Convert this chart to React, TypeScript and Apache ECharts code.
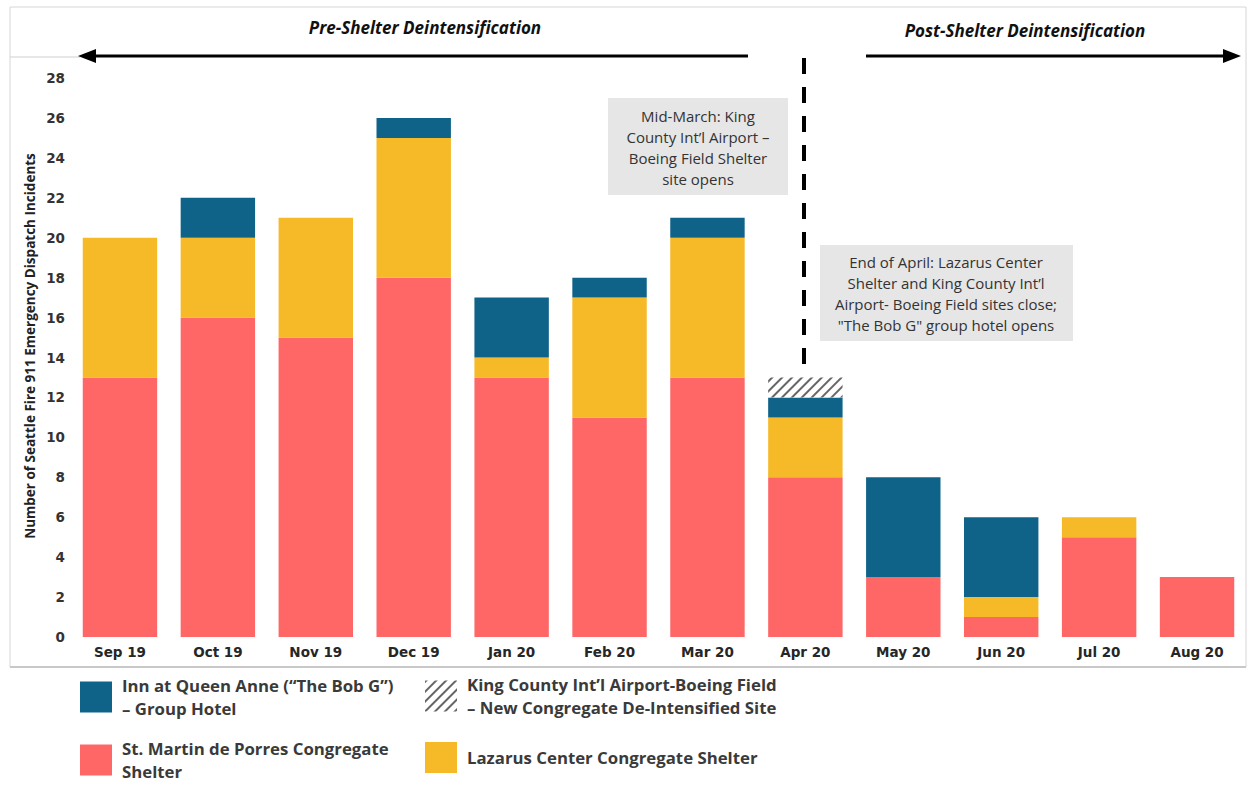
import React, { useEffect, useRef } from "react";
import * as echarts from "echarts";

const categories = ["Sep 19", "Oct 19", "Nov 19", "Dec 19", "Jan 20", "Feb 20", "Mar 20", "Apr 20", "May 20", "Jun 20", "Jul 20", "Aug 20"];
const stMartin = [13, 16, 15, 18, 13, 11, 13, 8, 3, 1, 5, 3];
const lazarus = [7, 4, 6, 7, 1, 6, 7, 3, 0, 1, 1, 0];
const bobG = [0, 2, 0, 1, 3, 1, 1, 1, 5, 4, 0, 0];
const kingCounty = [null, null, null, null, null, null, null, 1, null, null, null, null];

const yMin = 0;
const yMax = 28;
const yInterval = 2;

const nameRed = "St. Martin de Porres Congregate Shelter";
const nameYellow = "Lazarus Center Congregate Shelter";
const nameBlue = "Inn at Queen Anne (“The Bob G”) – Group Hotel";
const nameHatch = "King County Int’l Airport-Boeing Field – New Congregate De-Intensified Site";

const legendLabels: Record<string, string> = {
  [nameRed]: "St. Martin de Porres Congregate\nShelter",
  [nameYellow]: "Lazarus Center Congregate Shelter",
  [nameBlue]: "Inn at Queen Anne (“The Bob G”)\n– Group Hotel",
  [nameHatch]: "King County Int’l Airport-Boeing Field\n– New Congregate De-Intensified Site",
};

const FONT = "'Open Sans', Lato, sans-serif";
const AXFONT = "'DejaVu Sans', Verdana, sans-serif";

export default function App() {
  const ref = useRef<HTMLDivElement>(null);
  useEffect(() => {
    if (!ref.current) return;
    const chart = echarts.init(ref.current, undefined, { renderer: "svg" });
    const legendBase = (name: string, left: number, top: number) => ({
      data: [name],
      left,
      top,
      orient: "vertical",
      padding: 0,
      icon: "rect",
      itemWidth: 32,
      itemHeight: 31,
      selectedMode: false,
      formatter: (n: string) => legendLabels[n] || n,
      textStyle: {
        fontFamily: FONT,
        fontWeight: "bold",
        fontSize: 16.8,
        color: "#3a3a3a",
        lineHeight: 23,
        padding: [0, 0, 0, 5],
      },
    });
    const option: any = {
      animation: false,
      backgroundColor: "#ffffff",
      grid: { left: 71, right: 6, top: 78, bottom: 161, containLabel: false },
      xAxis: {
        type: "category",
        data: categories,
        axisLine: { show: false },
        axisTick: { show: false },
        axisLabel: {
          margin: 8,
          fontFamily: AXFONT,
          fontWeight: "bold",
          fontSize: 13.5,
          color: "#262626",
        },
      },
      yAxis: {
        type: "value",
        min: yMin,
        max: yMax,
        interval: yInterval,
        splitLine: { show: false },
        axisLine: { show: false },
        axisTick: { show: false },
        axisLabel: {
          margin: 6,
          fontFamily: AXFONT,
          fontWeight: "bold",
          fontSize: 13.5,
          color: "#333333",
        },
      },
      legend: [
        legendBase(nameBlue, 80, 674),
        legendBase(nameRed, 80, 737),
        legendBase(nameHatch, 425, 673),
        legendBase(nameYellow, 425, 742),
      ],
      series: [
        {
          name: nameRed,
          type: "bar",
          stack: "total",
          barCategoryGap: "24%",
          data: stMartin,
          itemStyle: { color: "#FF6767" },
        },
        {
          name: nameYellow,
          type: "bar",
          stack: "total",
          data: lazarus,
          itemStyle: { color: "#F6B928" },
        },
        {
          name: nameBlue,
          type: "bar",
          stack: "total",
          data: bobG,
          itemStyle: { color: "#0F6288" },
        },
        {
          name: nameHatch,
          type: "bar",
          stack: "total",
          data: kingCounty,
          itemStyle: {
            color: "#ffffff",
            decal: {
              symbol: "rect",
              symbolSize: 1,
              dashArrayX: [1, 0],
              dashArrayY: [1.5, 4.5],
              rotation: -Math.PI / 4,
              color: "#666666",
            },
          },
        },
      ],
      graphic: {
        elements: [
          {
            type: "rect",
            shape: { x: 10, y: 7, width: 1236, height: 660 },
            style: { fill: "none", stroke: "#d6d6d6", lineWidth: 1 },
            silent: true,
          },
          {
            type: "line",
            shape: { x1: 10, y1: 667, x2: 1246, y2: 667 },
            style: { stroke: "#c8c8c8", lineWidth: 2 },
            silent: true,
          },
          {
            type: "line",
            shape: { x1: 10, y1: 57, x2: 80, y2: 57 },
            style: { stroke: "#cfcfcf", lineWidth: 1 },
            silent: true,
          },
          // left arrow
          {
            type: "line",
            shape: { x1: 92, y1: 56, x2: 748, y2: 56 },
            style: { stroke: "#000", lineWidth: 3 },
            silent: true,
          },
          {
            type: "polygon",
            shape: { points: [[78, 56], [96, 49], [96, 63]] },
            style: { fill: "#000" },
            silent: true,
          },
          // right arrow
          {
            type: "line",
            shape: { x1: 866, y1: 56, x2: 1226, y2: 56 },
            style: { stroke: "#000", lineWidth: 3 },
            silent: true,
          },
          {
            type: "polygon",
            shape: { points: [[1241, 56], [1223, 49], [1223, 63]] },
            style: { fill: "#000" },
            silent: true,
          },
          {
            type: "text",
            style: {
              text: "Pre-Shelter Deintensification",
              x: 425,
              y: 27,
              textAlign: "center",
              textVerticalAlign: "middle",
              font: `italic bold 17px ${FONT}`,
              fill: "#111",
            },
            silent: true,
          },
          {
            type: "text",
            style: {
              text: "Post-Shelter Deintensification",
              x: 1025,
              y: 30,
              textAlign: "center",
              textVerticalAlign: "middle",
              font: `italic bold 17px ${FONT}`,
              fill: "#111",
            },
            silent: true,
          },
          // dashed divider
          {
            type: "line",
            shape: { x1: 804, y1: 58, x2: 804, y2: 364 },
            style: { stroke: "#000", lineWidth: 4, lineDash: [16, 13] },
            silent: true,
          },
          // annotation 1
          {
            type: "rect",
            shape: { x: 608, y: 98, width: 180, height: 97 },
            style: { fill: "#e6e6e6" },
            silent: true,
          },
          {
            type: "text",
            style: {
              text: "Mid-March: King\nCounty Int’l Airport –\nBoeing Field Shelter\nsite opens",
              x: 698,
              y: 147,
              textAlign: "center",
              textVerticalAlign: "middle",
              font: `15px ${FONT}`,
              lineHeight: 21,
              fill: "#333",
            },
            silent: true,
          },
          // annotation 2
          {
            type: "rect",
            shape: { x: 820, y: 245, width: 253, height: 96 },
            style: { fill: "#e6e6e6" },
            silent: true,
          },
          {
            type: "text",
            style: {
              text: "End of April: Lazarus Center\nShelter and King County Int’l\nAirport- Boeing Field sites close;\n\"The Bob G\" group hotel opens",
              x: 946,
              y: 293,
              textAlign: "center",
              textVerticalAlign: "middle",
              font: `15px ${FONT}`,
              lineHeight: 21,
              fill: "#333",
            },
            silent: true,
          },
          // y axis title
          {
            type: "text",
            rotation: Math.PI / 2,
            x: 30,
            y: 346,
            style: {
              text: "Number of Seattle Fire 911 Emergency Dispatch Incidents",
              x: 0,
              y: 0,
              textAlign: "center",
              textVerticalAlign: "middle",
              font: `bold 13.5px ${FONT}`,
              fill: "#222",
            },
            silent: true,
          },
        ],
      },
    };
    chart.setOption(option);
    return () => chart.dispose();
  }, []);
  return (
    <div
      ref={ref}
      style={{ position: "fixed", left: 0, top: 0, width: 1252, height: 798 }}
    />
  );
}
